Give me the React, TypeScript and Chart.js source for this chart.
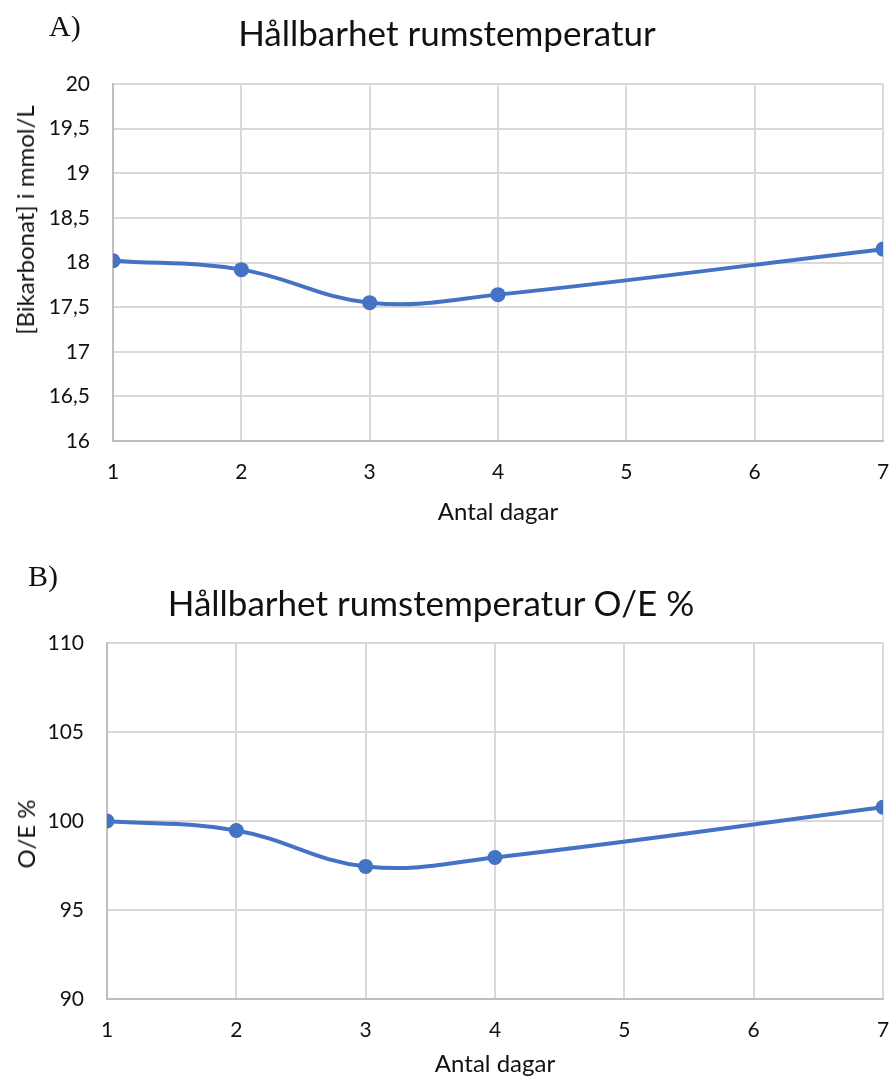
import React, { useEffect, useRef } from "react";
import { Chart, registerables } from "chart.js";

Chart.register(...registerables);

// ---- data ----
const days = [1, 2, 3, 4, 7];
const bicarbonate = [18.02, 17.92, 17.55, 17.64, 18.15];
const oePercent = [100.0, 99.47, 97.45, 97.95, 100.77];
const xTitle = "Antal dagar";
const titleA = "Hållbarhet rumstemperatur";
const titleB = "Hållbarhet rumstemperatur O/E %";
const yTitleA = "[Bikarbonat] i mmol/L";
const yTitleB = "O/E %";

const FONT = "Lato, Carlito, Calibri, 'Open Sans', sans-serif";
const LINE = "#4472C4";
const GRID = "#d9d9d9";
const AXIS = "#bfbfbf";
const TEXT = "#111111";

type PanelProps = {
  values: number[];
  yMin: number;
  yMax: number;
  yStep: number;
  height: number;
  areaLeft: number;
  areaTop: number;
  areaBottom: number;
  xTitlePadBottom: number;
};

function Panel(p: PanelProps) {
  const ref = useRef<HTMLCanvasElement | null>(null);
  useEffect(() => {
    if (!ref.current) return;
    const chart = new Chart(ref.current, {
      type: "line",
      data: {
        datasets: [
          {
            data: days.map((d, i) => ({ x: d, y: p.values[i] })),
            borderColor: LINE,
            backgroundColor: LINE,
            borderWidth: 4,
            pointRadius: 7.5,
            pointBorderWidth: 0,
            pointBackgroundColor: LINE,
            tension: 0.4,
            fill: false,
          },
        ],
      },
      options: {
        responsive: false,
        animation: false,
        layout: { autoPadding: false, padding: { left: 0, right: 8, top: p.areaTop, bottom: 0 } },
        plugins: { legend: { display: false }, tooltip: { enabled: false } },
        scales: {
          x: {
            type: "linear",
            min: 1,
            max: 7,
            ticks: { stepSize: 1, padding: 0, color: TEXT, font: { family: FONT, size: 21 } },
            grid: {
              color: GRID,
              lineWidth: 2,
              drawTicks: true,
              tickLength: 19,
              tickColor: "rgba(0,0,0,0)",
            },
            border: { color: AXIS, width: 2 },
            title: {
              display: true,
              text: xTitle,
              color: TEXT,
              font: { family: FONT, size: 24 },
              padding: { top: 0, bottom: p.xTitlePadBottom },
            },
            afterFit: (s: any) => {
              s.height = p.height - p.areaBottom;
            },
          },
          y: {
            type: "linear",
            min: p.yMin,
            max: p.yMax,
            ticks: {
              stepSize: p.yStep,
              padding: 23,
              color: TEXT,
              font: { family: FONT, size: 21 },
              callback: (v: any) => String(v).replace(".", ","),
            },
            grid: { color: GRID, lineWidth: 2, drawTicks: false },
            border: { color: AXIS, width: 2 },
            afterFit: (s: any) => {
              s.width = p.areaLeft;
            },
          },
        },
      },
    });
    return () => chart.destroy();
  }, []);
  return <canvas ref={ref} width={891} height={p.height} style={{ display: "block" }} />;
}

const titleStyle = (cx: number, cy: number, size: number): React.CSSProperties => ({
  position: "absolute",
  left: cx,
  top: cy - size / 2,
  transform: "translateX(-50%)",
  fontFamily: FONT,
  fontSize: size,
  lineHeight: 1,
  whiteSpace: "nowrap",
  color: TEXT,
});

const yTitleStyle = (cx: number, cy: number, size: number): React.CSSProperties => ({
  position: "absolute",
  left: cx,
  top: cy,
  transform: "translate(-50%, -50%) rotate(-90deg)",
  fontFamily: FONT,
  fontSize: size,
  lineHeight: 1,
  whiteSpace: "nowrap",
  color: TEXT,
});

const letterStyle = (x: number, cy: number): React.CSSProperties => ({
  position: "absolute",
  left: x,
  top: cy - 15,
  fontFamily: "'Liberation Serif', 'DejaVu Serif', serif",
  fontSize: 30,
  lineHeight: 1,
  color: TEXT,
});

export default function App() {
  return (
    <div style={{ position: "absolute", left: 0, top: 0, width: 891, height: 1083, background: "#fff" }}>
      <div style={{ position: "absolute", left: 0, top: 0 }}>
        <Panel
          values={bicarbonate}
          yMin={16}
          yMax={20}
          yStep={0.5}
          height={540}
          areaLeft={113}
          areaTop={84}
          areaBottom={441}
          xTitlePadBottom={13}
        />
      </div>
      <div style={{ position: "absolute", left: 0, top: 540 }}>
        <Panel
          values={oePercent}
          yMin={90}
          yMax={110}
          yStep={5}
          height={543}
          areaLeft={107}
          areaTop={103}
          areaBottom={459}
          xTitlePadBottom={4}
        />
      </div>
      <div style={letterStyle(49, 26)}>A)</div>
      <div style={titleStyle(447, 32, 35)}>{titleA}</div>
      <div style={yTitleStyle(25, 220, 24)}>{yTitleA}</div>
      <div style={letterStyle(28, 576)}>B)</div>
      <div style={titleStyle(431, 602, 35)}>{titleB}</div>
      <div style={yTitleStyle(26, 834, 24)}>{yTitleB}</div>
    </div>
  );
}
